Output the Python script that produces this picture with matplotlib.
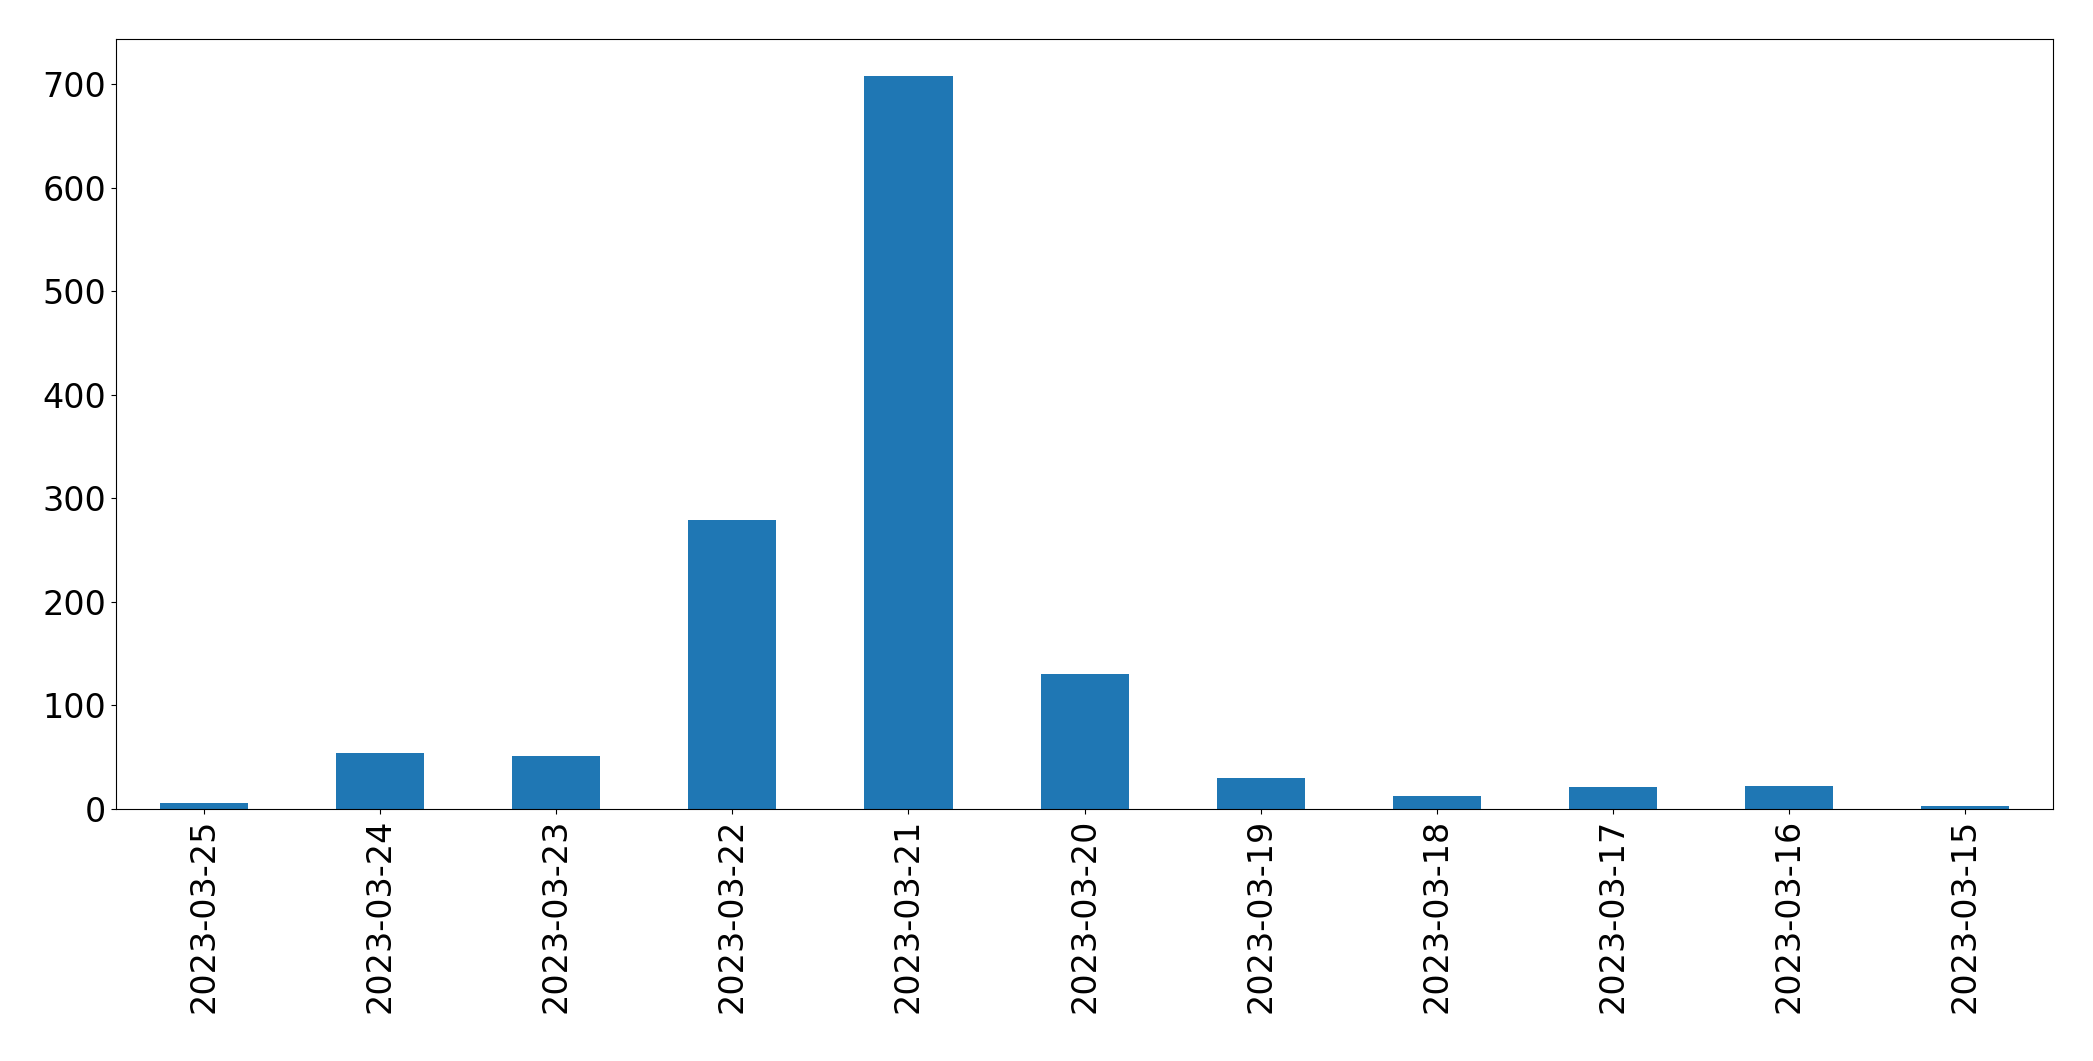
import matplotlib
matplotlib.use("Agg")
import matplotlib.pyplot as plt
import numpy as np

dates = ['2023-03-25', '2023-03-24', '2023-03-23', '2023-03-22', '2023-03-21',
         '2023-03-20', '2023-03-19', '2023-03-18', '2023-03-17', '2023-03-16',
         '2023-03-15']
counts = [6, 54, 51, 279, 708, 130, 30, 13, 21, 22, 3]

fig, ax = plt.subplots(figsize=(20.93, 10.61), dpi=100)
fig.subplots_adjust(left=0.0554, right=0.981, top=0.9632, bottom=0.2375)

x = np.arange(len(dates))
ax.bar(x, counts, width=0.5, color='#1f77b4')
ax.set_xlim(-0.5, len(dates) - 0.5)
ax.set_xticks(x)
ax.set_xticklabels(dates, rotation=90)
ax.tick_params(labelsize=24)

fig.savefig('out.png', dpi=100)
